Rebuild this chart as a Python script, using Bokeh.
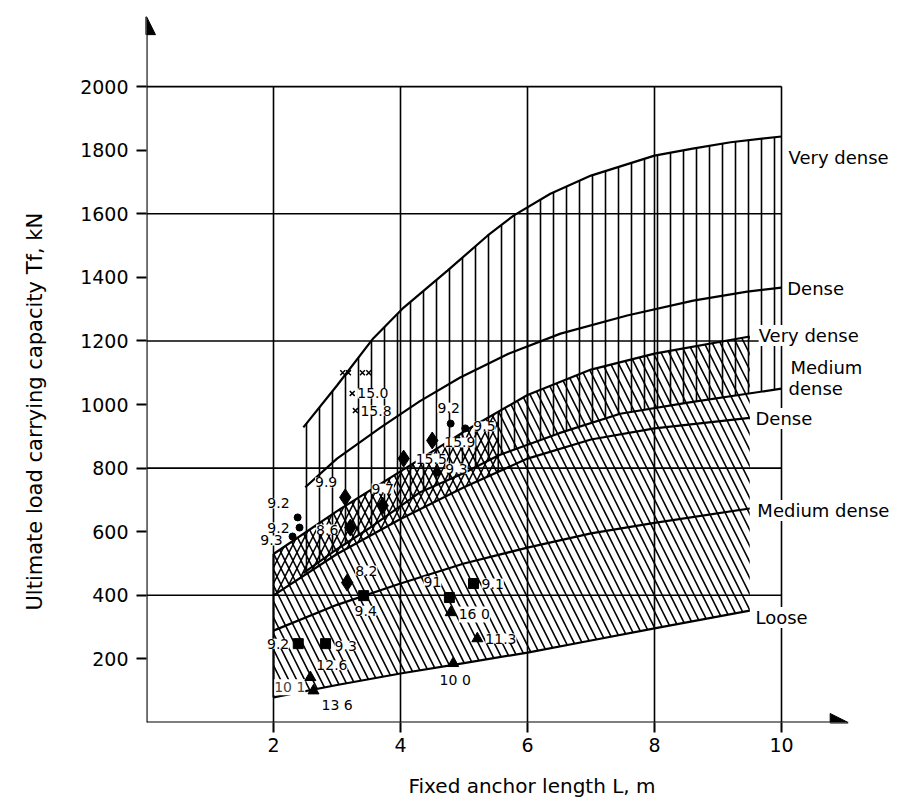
import numpy as np
from bokeh.plotting import figure
from bokeh.models import Range1d, Label, Arrow, NormalHead, FixedTicker, Title
from bokeh.embed import file_html
from bokeh.resources import INLINE

# ---------------- data ----------------
# gravel (vertical hatching)
L_g_vdense = [2.47, 3.0, 3.57, 4.05, 4.74, 5.37, 5.78, 6.36, 7.0, 8.0, 8.6, 9.2, 10.0]
T_g_vdense = [928, 1060, 1208, 1305, 1421, 1531, 1594, 1663, 1720, 1783, 1805, 1825, 1843]
L_g_dense = [2.5, 3.0, 3.69, 4.3, 4.94, 5.7, 6.52, 7.57, 8.61, 9.46, 10.0]
T_g_dense = [740, 830, 928, 1010, 1085, 1160, 1223, 1280, 1327, 1355, 1368]
L_g_mdense = [2.47, 3.0, 3.5, 4.3, 5.0, 5.54, 6.5, 7.46, 8.5, 9.46, 10.0]
T_g_mdense = [470, 545, 610, 723, 785, 840, 910, 971, 1005, 1034, 1050]
# sand (diagonal hatching)
L_s = [2.0, 3.0, 4.0, 5.0, 6.0, 7.0, 8.0, 9.5]
T_s_vdense = [530, 665, 790, 915, 1030, 1110, 1160, 1214]
T_s_dense = [400, 530, 640, 740, 830, 890, 925, 958]
T_s_mdense = [289, 370, 437, 500, 550, 595, 628, 673]
T_s_loose = [79, 118, 154, 187, 220, 258, 296, 352]
L_cross_end = 5.54  # end of the cross-hatched band

# test results: (L, T, label)
circ_L = [2.38, 2.41, 2.30, 4.79, 5.02, 4.58]
circ_T = [645, 613, 585, 940, 925, 786]
circ_lab = ["9.2", "9.2", "9.3", "9.2", "9.5", "9.3"]
diam_L = [4.50, 4.05, 3.13, 3.72, 3.21, 3.16]
diam_T = [887, 830, 708, 682, 613, 440]
diam_lab = ["15.9", "15.5", "9.9", "9.7", "8.6", "8.2"]
sq_L = [3.42, 4.77, 5.15, 2.39, 2.82]
sq_T = [399, 393, 437, 248, 248]
sq_lab = ["9.4", "91", "9.1", "9.2", "9.3"]
tri_L = [4.79, 5.21, 4.83, 2.58, 2.63]
tri_T = [346, 264, 186, 142, 100]
tri_lab = ["16 0", "11.3", "10 0", "12.6", "13 6"]
x_L = [3.09, 3.18, 3.40, 3.50, 3.24, 3.29]
x_T = [1100, 1100, 1100, 1100, 1035, 981]
x_lab = ["", "", "", "", "15.0", "15.8"]
extra_lab = [("10 1", 2.58, 142)]

x_ticks = [2, 4, 6, 8, 10]
y_ticks = [200, 400, 600, 800, 1000, 1200, 1400, 1600, 1800, 2000]
h_grid = [400, 800, 1200, 1600, 2000]

# label offsets (screen px) for each point label
circ_off = [(-8, 14), (-10, 0), (-10, -4), (-2, 16), (8, 2), (8, 4)]
diam_off = [(12, -2), (12, 0), (-8, 15), (0, 17), (-12, -2), (8, 12)]
sq_off = [(2, -15), (-8, 16), (8, 0), (-9, 0), (9, -2)]
tri_off = [(8, -2), (8, 0), (2, -17), (6, 12), (8, -14)]
x_off = [(0, 0)] * 4 + [(5, 0), (5, 0)]

FONT = "DejaVu Sans"

p = figure(width=900, height=800, output_backend="svg", toolbar_location=None,
           x_range=Range1d(0, 11.874), y_range=Range1d(0, 2233),
           min_border_left=146, min_border_top=12, min_border_right=0,
           min_border_bottom=78)
p.outline_line_color = None
p.grid.visible = False
p.background_fill_color = "white"

for ax in (p.xaxis, p.yaxis):
    ax.axis_line_color = None
    ax.major_tick_in = 0
    ax.major_tick_out = 10
    ax.minor_tick_in = 0
    ax.minor_tick_out = 0
    ax.major_tick_line_width = 2
    ax.major_label_text_font = FONT
    ax.major_label_text_font_size = "19px"
    ax.major_label_text_color = "black"
p.xaxis.ticker = FixedTicker(ticks=x_ticks)
p.yaxis.ticker = FixedTicker(ticks=y_ticks)
p.xaxis.major_label_standoff = 5
p.yaxis.major_label_standoff = 8
# invisible spacers that push the titles outwards
p.yaxis.axis_label = "."
p.yaxis.axis_label_text_color = "white"
p.yaxis.axis_label_text_font_size = "6px"
p.yaxis.axis_label_standoff = 24
p.xaxis.axis_label = "."
p.xaxis.axis_label_text_color = "white"
p.xaxis.axis_label_text_font_size = "4px"
p.xaxis.axis_label_standoff = 11

# axis titles
p.add_layout(Title(text="Ultimate load carrying capacity Tf, kN", align="left",
                   offset=112, text_font=FONT, text_font_size="21px",
                   text_font_style="normal", text_color="black", standoff=0), "left")
p.add_layout(Title(text="Fixed anchor length L, m", align="left", offset=262,
                   text_font=FONT, text_font_size="20px", text_font_style="normal",
                   text_color="black", standoff=0), "below")

# hatched regions
gx = L_g_vdense + [10.0] + L_g_mdense[::-1]
gy = T_g_vdense + [T_g_mdense[-1]] + T_g_mdense[::-1]
p.patch(gx, gy, fill_alpha=0, line_color=None, hatch_pattern="vertical_line",
        hatch_scale=13, hatch_weight=1.6, hatch_color="black")
sx = L_s + L_s[::-1]
sy = T_s_loose + T_s_vdense[::-1]
p.patch(sx, sy, fill_alpha=0, line_color=None, hatch_pattern="left_diagonal_line",
        hatch_scale=16, hatch_weight=1.6, hatch_color="black")
# cross-hatched band (dense sand, short anchors)
cL = [l for l in L_s if l < L_cross_end]
cd = [t for l, t in zip(L_s, T_s_dense) if l < L_cross_end] + [float(np.interp(L_cross_end, L_s, T_s_dense))]
cv = [t for l, t in zip(L_s, T_s_vdense) if l < L_cross_end] + [float(np.interp(L_cross_end, L_s, T_s_vdense))]
cL = cL + [L_cross_end]
p.patch(cL + cL[::-1], cd + cv[::-1], fill_alpha=0, line_color=None,
        hatch_pattern="right_diagonal_line", hatch_scale=16, hatch_weight=1.5,
        hatch_color="black")
p.line([L_cross_end, L_cross_end], [cd[-1], cv[-1]], line_color="black", line_width=1.6)

# grid
p.segment(x0=[0] * len(h_grid), y0=h_grid, x1=[10] * len(h_grid), y1=h_grid,
          line_color="black", line_width=1.6)
p.segment(x0=x_ticks, y0=[0] * len(x_ticks), x1=x_ticks, y1=[2000] * len(x_ticks),
          line_color="black", line_width=1.6)

# curves
for xs, ys in [(L_g_vdense, T_g_vdense), (L_g_dense, T_g_dense), (L_g_mdense, T_g_mdense),
               (L_s, T_s_vdense), (L_s, T_s_dense), (L_s, T_s_mdense), (L_s, T_s_loose)]:
    p.line(xs, ys, line_color="black", line_width=2.2)
p.line([2, 2], [T_s_loose[0], T_s_vdense[0]], line_color="black", line_width=2)

# axes with arrows
p.add_layout(Arrow(end=NormalHead(size=18, fill_color="black", line_color="black"),
                   x_start=0, y_start=0, x_end=11.05, y_end=0,
                   line_color="black", line_width=2.2))
p.add_layout(Arrow(end=NormalHead(size=18, fill_color="black", line_color="black"),
                   x_start=0, y_start=0, x_end=0, y_end=2220,
                   line_color="black", line_width=2.2))


def add_labels(Ls, Ts, labs, offs):
    for L, T, t, (dx, dy) in zip(Ls, Ts, labs, offs):
        if not t:
            continue
        align = "left" if dx > 2 else ("right" if dx < -2 else "center")
        p.add_layout(Label(x=L, y=T, text=t, x_offset=dx, y_offset=dy,
                           text_align=align, text_baseline="middle",
                           text_font=FONT, text_font_size="14px", text_color="black",
                           background_fill_color="white"))


add_labels(circ_L, circ_T, circ_lab, circ_off)
add_labels(diam_L, diam_T, diam_lab, diam_off)
add_labels(sq_L, sq_T, sq_lab, sq_off)
add_labels(tri_L, tri_T, tri_lab, tri_off)
add_labels(x_L, x_T, x_lab, x_off)
for t, L, T in extra_lab:
    p.add_layout(Label(x=L, y=T, text=t, x_offset=-5, y_offset=-10, text_align="right",
                       text_baseline="middle", text_font=FONT, text_font_size="14px",
                       background_fill_color="white"))

# markers (on top of labels' white boxes)
p.scatter(circ_L, circ_T, marker="circle", size=7, color="black", level="overlay")
p.scatter(diam_L, diam_T, marker="diamond", size=17, color="black", level="overlay")
p.scatter(sq_L, sq_T, marker="square", size=10, color="black", level="overlay")
p.scatter(tri_L, tri_T, marker="triangle", size=11, color="black", level="overlay")
p.scatter(x_L, x_T, marker="x", size=7, color="black", line_width=1.5, level="overlay")

# curve names at right
names = [("Very dense", 10.11, 1777), ("Dense", 10.09, 1365), ("Very dense", 9.64, 1217),
         ("Medium", 10.14, 1116), ("dense", 10.11, 1050), ("Dense", 9.59, 956),
         ("Medium dense", 9.62, 667), ("Loose", 9.59, 330)]
for t, x, y in names:
    p.add_layout(Label(x=x, y=y, text=t, text_align="left", text_baseline="middle",
                       text_font=FONT, text_font_size="18px", text_color="black",
                       background_fill_color="white"))

open("out.html", "w").write(file_html(p, INLINE))
